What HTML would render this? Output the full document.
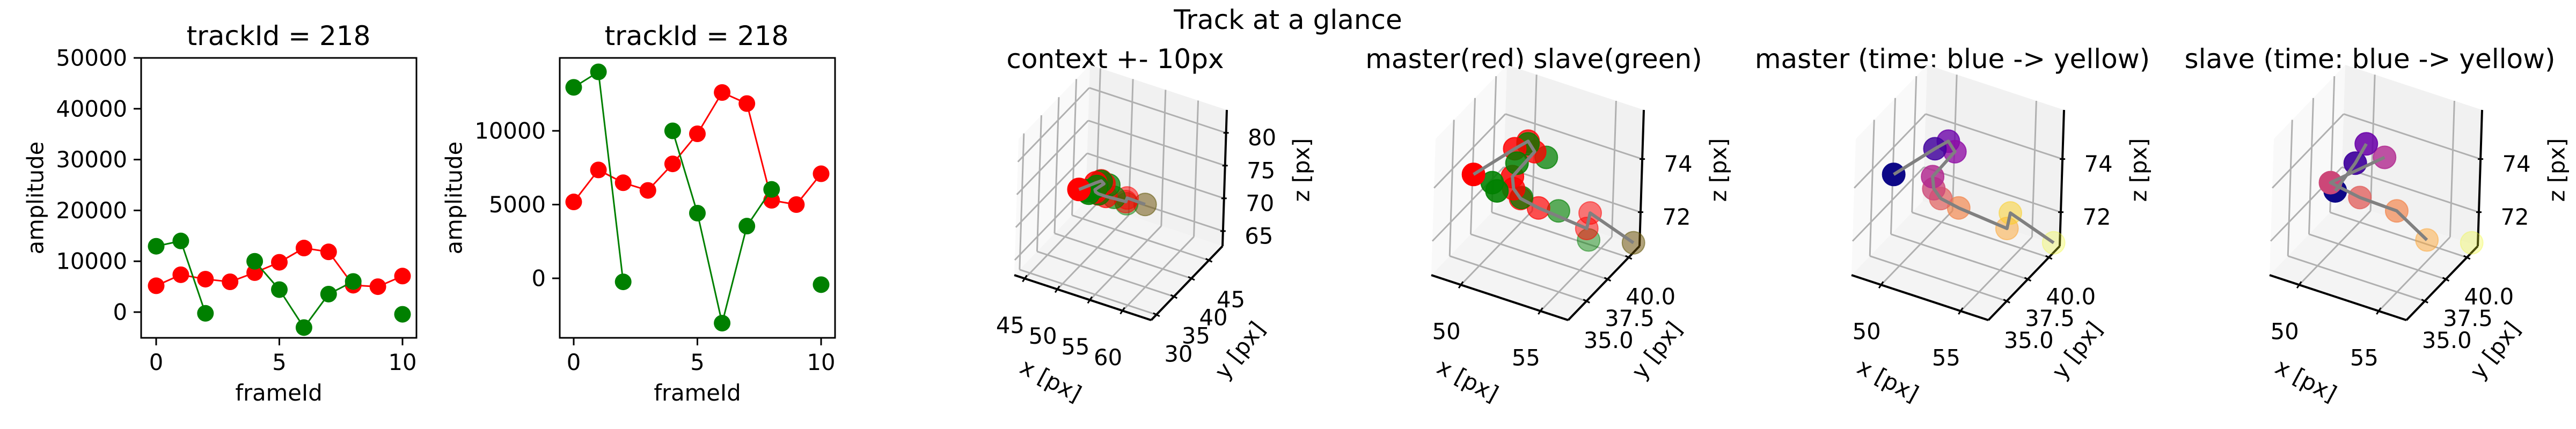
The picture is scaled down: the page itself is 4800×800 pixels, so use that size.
<!DOCTYPE html>
<html><head><meta charset="utf-8"><style>
html,body{margin:0;padding:0;background:#fff;}
svg{display:block;font-family:"DejaVu Sans","Liberation Sans",sans-serif;}
</style></head><body>
<svg id="fig" width="4800" height="800" xmlns="http://www.w3.org/2000/svg">
<text x="2400" y="54" font-size="50" text-anchor="middle">Track at a glance</text>
</svg>
<script>
const frames=[0,1,2,3,4,5,6,7,8,9,10];
const masterAmp=[5180,7350,6480,5960,7760,9800,12600,11850,5290,5000,7090];
const slaveAmp=[12950,14000,-240,null,10000,4420,-3040,3540,6030,null,-430];
const masterX=[49.28,51.15,51.75,52.18,51.06,50.94,51.18,52.10,54.50,54.68,56.57];
const masterY=[35.36,36.63,37.06,37.06,36.63,37.06,37.48,37.90,39.17,39.17,40.87];
const masterZ=[73.90,74.82,75.08,74.77,73.75,73.13,72.67,72.36,71.64,72.26,70.95];
const slaveX=[50.34,51.32,51.75,null,52.70,50.03,51.24,53.13,54.42,null,56.57];
const slaveY=[36.21,36.63,37.06,null,37.48,36.21,37.48,38.33,39.60,null,40.87];
const slaveZ=[73.21,74.31,74.98,null,74.52,73.46,72.72,72.31,71.05,null,70.95];
const xTicks2d=[0,5,10];
const yTicksA=[0,10000,20000,30000,40000,50000];
const yTicksB=[0,5000,10000];
const ctxXTicks=[45,50,55,60], ctxYTicks=[30,35,40,45], ctxZTicks=[65,70,75,80];
const zmXTicks=[50,55], zmYTicks=[35.0,37.5,40.0], zmZTicks=[72,74];
const plasma=['#0d0887','#41049d','#6a00a8','#8f0da4','#b12a90','#cc4778','#e16462','#f2844b','#fca636','#fcce25','#f0f921'];

const svg=document.getElementById('fig');
const NS='http://www.w3.org/2000/svg';
function mk(tag,attrs,parent,text){const e=document.createElementNS(NS,tag);for(const k in attrs)e.setAttribute(k,attrs[k]);if(text!==undefined)e.textContent=text;(parent||svg).appendChild(e);return e;}

function chart2d(name,L,R,T,B,x0px,x10px,yv0,ypx0,yv1,ypx1,yticks,titleX){
  const g=mk('g',{});
  
  
  const sx=v=>x0px+(x10px-x0px)*v/10;
  const sy=v=>ypx0+(ypx1-ypx0)*(v-yv0)/(yv1-yv0);
  const t=mk('text',{x:titleX,y:84,'font-size':50,'text-anchor':'middle'},g,'trackId = 218');
  
  
  yticks.forEach(v=>{const y=sy(v);
    mk('line',{x1:L-14,x2:L,y1:y,y2:y,stroke:'#000','stroke-width':3},g);
    const tl=mk('text',{x:L-26,y:y,'font-size':41.7,'text-anchor':'end','dominant-baseline':'central'},g,String(v));
    
    
  });
  xTicks2d.forEach(v=>{const x=sx(v);
    mk('line',{x1:x,x2:x,y1:B,y2:B+14,stroke:'#000','stroke-width':3},g);
    const tl=mk('text',{x:x,y:690,'font-size':41.7,'text-anchor':'middle'},g,String(v));
    
    
  });
  const xl=mk('text',{x:(L+R)/2,y:747,'font-size':41.7,'text-anchor':'middle'},g,'frameId');
  
  
  const yl=mk('text',{x:0,y:0,'font-size':41.7,'text-anchor':'middle','dominant-baseline':'central',transform:`translate(${L-197},${(T+B)/2}) rotate(-90)`},g,'amplitude');
  
  
  [[masterAmp,'#ff0000','master'],[slaveAmp,'#008000','slave']].forEach(([arr,col,nm])=>{
    let segs=[],cur=[];
    arr.forEach((v,i)=>{if(v===null){if(cur.length)segs.push(cur);cur=[];}else cur.push(sx(frames[i])+','+sy(v));});
    if(cur.length)segs.push(cur);
    segs.forEach(s=>{if(s.length>1){const pl=mk('polyline',{points:s.join(' '),fill:'none',stroke:col,'stroke-width':3},g);
      
      }});
    arr.forEach((v,i)=>{if(v===null)return;
      const c=mk('circle',{cx:sx(frames[i]),cy:sy(v),r:15.5,fill:col},g);
      
      });
  });
  const r=mk('rect',{x:L,y:T,width:R-L,height:B-T,fill:'none',stroke:'#000','stroke-width':3},g);
  
  
}
chart2d('amplitude-chart-fixed',263,776,108,630,291,750,0,582,50000,108,yTicksA,519);
chart2d('amplitude-chart-auto',1043,1556,108,630,1069,1530,0,519,10000,244,yTicksB,1298);

const U=[255,84],V=[133,-138],W=[8,-254];
function panel(name,Ax,title,titleX,rng,xt,yt,zt,series,lineSeries){
  const g=mk('g',{});
  
  
  const A=[Ax,513];
  const P=(u,v,w)=>[A[0]+u*U[0]+v*V[0]+w*W[0],A[1]+u*U[1]+v*V[1]+w*W[1]];
  const pts=a=>a.map(p=>p.join(',')).join(' ');
  const nu=x=>(x-rng[0][0])/(rng[0][1]-rng[0][0]);
  const nv=y=>(y-rng[1][0])/(rng[1][1]-rng[1][0]);
  const nw=z=>(z-rng[2][0])/(rng[2][1]-rng[2][0]);
  const tt=mk('text',{x:titleX,y:127,'font-size':50,'text-anchor':'middle'},g,title);
  
  
  mk('polygon',{points:pts([P(0,0,0),P(0,1,0),P(0,1,1),P(0,0,1)]),fill:'#f9f9f9'},g);
  mk('polygon',{points:pts([P(0,1,0),P(1,1,0),P(1,1,1),P(0,1,1)]),fill:'#f1f1f1'},g);
  mk('polygon',{points:pts([P(0,0,0),P(1,0,0),P(1,1,0),P(0,1,0)]),fill:'#f4f4f4'},g);
  const gl=(a,b)=>mk('line',{x1:a[0],y1:a[1],x2:b[0],y2:b[1],stroke:'#b0b0b0','stroke-width':3},g);
  xt.forEach(x=>{const u=nu(x);gl(P(u,0,0),P(u,1,0));gl(P(u,1,0),P(u,1,1));});
  yt.forEach(y=>{const v=nv(y);gl(P(0,v,0),P(1,v,0));gl(P(0,v,0),P(0,v,1));});
  zt.forEach(z=>{const w=nw(z);gl(P(0,0,w),P(0,1,w));gl(P(0,1,w),P(1,1,w));});
  const ax=(a,b,n)=>{const l=mk('line',{x1:a[0],y1:a[1],x2:b[0],y2:b[1],stroke:'#000','stroke-width':4},g);
    
    };
  ax(P(0,0,0),P(1,0,0),'x-axis');ax(P(1,0,0),P(1,1,0),'y-axis');ax(P(1,1,0),P(1,1,1),'z-axis');
  const tk=(p,d)=>mk('line',{x1:p[0]-d[0],y1:p[1]-d[1],x2:p[0]+d[0],y2:p[1]+d[1],stroke:'#000','stroke-width':3},g);
  const lab=(x,y,s,n)=>{const e=mk('text',{x:x,y:y,'font-size':41.7,'text-anchor':'middle','dominant-baseline':'central'},g,s);
    
    };
  xt.forEach(x=>{const p=P(nu(x),0,0);tk(p,[-4,6]);lab(p[0]-27,p[1]+87,String(x),'x-tick-label');});
  yt.forEach(y=>{const p=P(1,nv(y),0);tk(p,[6,3]);lab(p[0]+41,p[1]+73,(yt.length===3?y.toFixed(1):String(y)),'y-tick-label');});
  zt.forEach(z=>{const p=P(1,1,nw(z));tk(p,[5,0]);lab(p[0]+67,p[1]+9,String(z),'z-tick-label');});
  const al=(dx,dy,rot,s,n)=>{const e=mk('text',{x:0,y:0,'font-size':41.7,'text-anchor':'middle','dominant-baseline':'central',transform:`translate(${A[0]+dx},${A[1]+dy}) rotate(${rot})`},g,s);
    
    };
  al(68,196,28,'x [px]','x-axis-title');al(420,140,-52,'y [px]','y-axis-title');al(535,-196,-90,'z [px]','z-axis-title');
  // points with depth shading
  let all=[];
  series.forEach(s=>{s.x.forEach((x,i)=>{if(x===null)return;all.push({u:nu(x),v:nv(s.y[i]),w:nw(s.z[i]),col:s.col(i),nm:s.nm});});});
  const vs=all.map(p=>p.v),vmin=Math.min(...vs),vmax=Math.max(...vs);
  all.sort((a,b)=>b.v-a.v);
  all.forEach(p=>{const q=P(p.u,p.v,p.w);const al=1-0.7*(p.v-vmin)/((vmax-vmin)||1);
    const c=mk('circle',{cx:q[0],cy:q[1],r:21,fill:p.col,'fill-opacity':al,stroke:p.col,'stroke-opacity':al,'stroke-width':2},g);
    
    });
  const s=lineSeries;let cur=[],segs=[];
  s.x.forEach((x,i)=>{if(x===null){if(cur.length)segs.push(cur);cur=[];}else cur.push(P(nu(x),nv(s.y[i]),nw(s.z[i])));});
  if(cur.length)segs.push(cur);
  segs.forEach(sg=>{if(sg.length>1){const pl=mk('polyline',{points:pts(sg),fill:'none',stroke:'#808080','stroke-width':6,'stroke-linejoin':'round'},g);
    
    }});
}
const M={x:masterX,y:masterY,z:masterZ,nm:'master'},S={x:slaveX,y:slaveY,z:slaveZ,nm:'slave'};
const red=()=>'#ff0000',green=()=>'#008000',pl=i=>plasma[i];
const ctxR=[[43.4,64.4],[28.49,48.9],[62.7,83.5]],zmR=[[48.14,56.74],[32.82,41.29],[70.72,75.85]];
panel('context-panel',1890,'context +- 10px',2078,ctxR,ctxXTicks,ctxYTicks,ctxZTicks,[{...M,col:red},{...S,col:green}],M);
panel('master-slave-panel',2667,'master(red) slave(green)',2858,zmR,zmXTicks,zmYTicks,zmZTicks,[{...M,col:red},{...S,col:green}],M);
panel('master-time-panel',3450,'master (time: blue -> yellow)',3638,zmR,zmXTicks,zmYTicks,zmZTicks,[{...M,col:pl}],M);
panel('slave-time-panel',4229,'slave (time: blue -> yellow)',4416,zmR,zmXTicks,zmYTicks,zmZTicks,[{...S,col:pl}],S);
</script>
</body></html>
